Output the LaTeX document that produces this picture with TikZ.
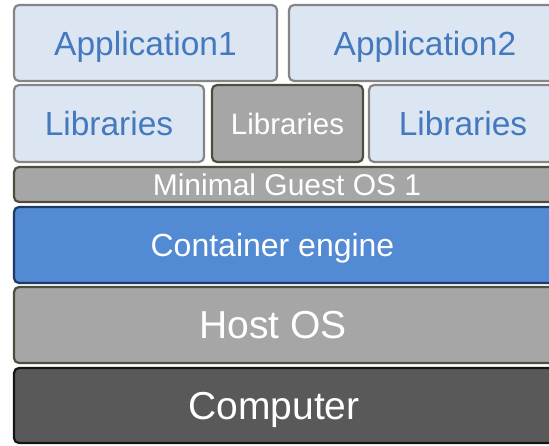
\documentclass[tikz,border=0pt]{standalone}
\usepackage{fontspec}
\setmainfont{Liberation Sans}
\definecolor{lblue}{HTML}{DCE6F2}
\definecolor{lborder}{HTML}{858585}
\definecolor{btext}{HTML}{4479BE}
\definecolor{gfill}{HTML}{A6A6A6}
\definecolor{gborder}{HTML}{4E4E3C}
\definecolor{efill}{HTML}{538AD4}
\definecolor{eborder}{HTML}{1E3966}
\definecolor{cfill}{HTML}{595959}
\definecolor{cborder}{HTML}{151515}
\tikzset{
  layer/.style={rounded corners=5pt, line width=2.2pt, inner sep=0pt, text depth=0pt},
  lightbox/.style={layer, fill=lblue, draw=lborder, text=btext},
  graybox/.style={layer, fill=gfill, draw=gborder, text=white},
  enginebox/.style={layer, fill=efill, draw=eborder, text=white},
  compbox/.style={layer, fill=cfill, draw=cborder, text=white},
  lbl/.style={inner sep=0pt, text depth=0pt, text=white},
}
\begin{document}
\begin{tikzpicture}[x=1pt,y=-1pt]
\useasboundingbox (0,0) rectangle (549,445);
\clip (0,0) rectangle (549,445);
\fill[white] (0,0) rectangle (549,445);
% applications
\node[lightbox, minimum width=263pt, minimum height=76pt, text height=24pt,
      font=\fontsize{33.5}{36}\selectfont] (app1) at (145.5,43) {Application1};
\node[lightbox, minimum width=272pt, minimum height=76pt, text height=24pt,
      font=\fontsize{33.5}{36}\selectfont] (app2) at (425,43) {Application2};
% libraries
\node[lightbox, minimum width=190pt, minimum height=77pt, text height=24pt,
      font=\fontsize{33.5}{36}\selectfont] (libl) at (109,123.5) {Libraries};
\node[graybox, minimum width=151pt, minimum height=77pt, text height=21.1pt,
      font=\fontsize{29.5}{32}\selectfont] (libm) at (287.5,123.5) {Libraries};
\node[lightbox, minimum width=188pt, minimum height=77pt, text height=24pt,
      font=\fontsize{33.5}{36}\selectfont] (libr) at (463,123.5) {Libraries};
% guest os
\node[graybox, minimum width=546pt, minimum height=35pt, text height=21.5pt,
      font=\fontsize{30}{32}\selectfont] (guest) at (287,184.5) {Minimal Guest OS 1};
% engine, host, computer
\node[enginebox, minimum width=560pt, minimum height=76pt] (engine) at (294,245) {};
\node[graybox, minimum width=560pt, minimum height=76pt] (host) at (294,325) {};
\node[compbox, minimum width=560pt, minimum height=75pt] (comp) at (294,405.5) {};
\node[lbl, text height=22.9pt, font=\fontsize{32}{34}\selectfont]
  (enginet) at ([xshift=-21.5pt]engine.center) {Container engine};
\node[lbl, text height=27.9pt, font=\fontsize{39}{42}\selectfont]
  (hostt) at ([xshift=-21pt]host.center) {Host OS};
\node[lbl, text height=27.9pt, font=\fontsize{39}{42}\selectfont]
  (compt) at ([xshift=-20pt]comp.center) {Computer};
\end{tikzpicture}
\end{document}
